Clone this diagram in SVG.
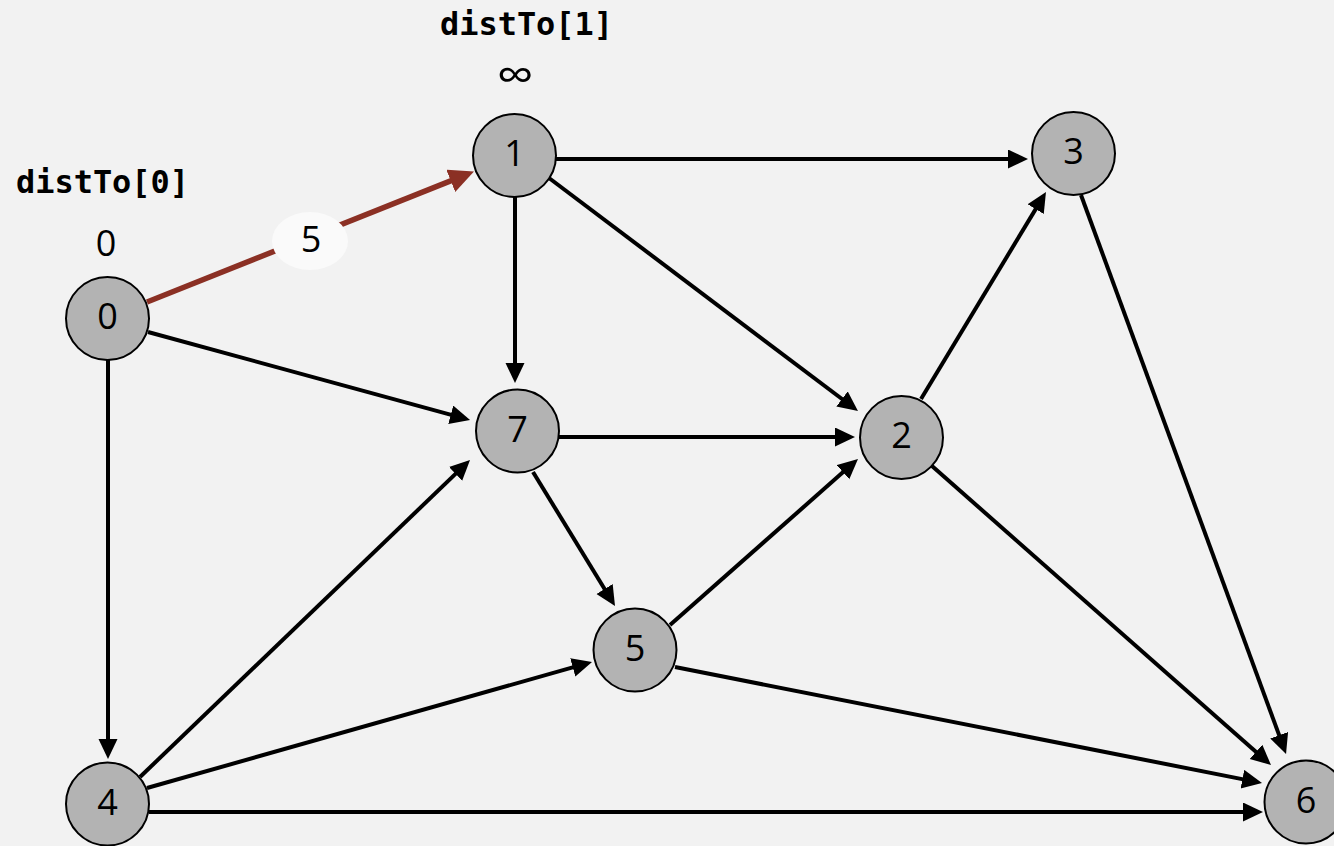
<svg xmlns="http://www.w3.org/2000/svg" width="1334" height="846" viewBox="0 0 1334 846">
<style>
.node circle{fill:#b3b3b3;stroke:#000;stroke-width:2}
.node text{font-family:"Open Sans","Noto Sans",sans-serif;font-size:36px;fill:#000;text-anchor:middle}
.edge{stroke:#000;stroke-width:4;fill:none;marker-end:url(#arr)}
.hot{stroke:#8b3024;stroke-width:5.5;fill:none;marker-end:url(#arrRed)}
.lbl{font-family:"DejaVu Sans Mono",monospace;font-weight:bold;font-size:32px;fill:#000;text-anchor:middle}
.val{font-family:"Open Sans","Noto Sans",sans-serif;font-size:36px;fill:#000;text-anchor:middle}
</style>
<defs>
<marker id="arr" markerUnits="userSpaceOnUse" markerWidth="22" markerHeight="22" refX="10" refY="9.5" orient="auto">
<path d="M0,0 L20,9.5 L0,19 Z" fill="#000"/>
</marker>
<marker id="arrRed" markerUnits="userSpaceOnUse" markerWidth="28" markerHeight="28" refX="12" refY="12" orient="auto">
<path d="M0,0 L25,12 L0,24 Z" fill="#8b3024"/>
</marker>
</defs>
<rect x="0" y="0" width="1334" height="846" fill="#f2f2f2"/>
<g id="connectors">
<line id="e0-1" class="hot" x1="147" y1="302" x2="461.9" y2="176.4"/>
<line id="e0-7" class="edge" x1="148" y1="332" x2="460.4" y2="417.4"/>
<line id="e0-4" class="edge" x1="108" y1="360" x2="108" y2="749"/>
<line id="e1-3" class="edge" x1="556" y1="159" x2="1018" y2="159"/>
<line id="e1-7" class="edge" x1="515" y1="197" x2="515" y2="373"/>
<line id="e1-2" class="edge" x1="549" y1="178" x2="850" y2="405"/>
<line id="e7-2" class="edge" x1="559" y1="437" x2="845" y2="437"/>
<line id="e7-5" class="edge" x1="533" y1="472" x2="609.8" y2="597.5"/>
<line id="e5-2" class="edge" x1="670" y1="625" x2="850.5" y2="465.6"/>
<line id="e2-3" class="edge" x1="921" y1="399" x2="1040.8" y2="200.6"/>
<line id="e2-6" class="edge" x1="932" y1="466" x2="1263.5" y2="758.4"/>
<line id="e3-6" class="edge" x1="1081" y1="195" x2="1282.6" y2="744.6"/>
<line id="e4-7" class="edge" x1="140" y1="777" x2="462.8" y2="466.9"/>
<line id="e4-5" class="edge" x1="147" y1="788" x2="582.4" y2="664.7"/>
<line id="e4-6" class="edge" x1="149" y1="812" x2="1253" y2="812"/>
<line id="e5-6" class="edge" x1="675" y1="667" x2="1252.2" y2="781.1"/>
<g id="w0-1">
<ellipse cx="310" cy="241" rx="38" ry="29" fill="#fafafa"/>
<text class="val" x="311" y="252">5</text>
</g>
</g>
<g id="n0" class="node"><circle cx="107.5" cy="318.5" r="41.5"/><text x="107.5" y="329">0</text></g>
<g id="n1" class="node"><circle cx="514.5" cy="155.5" r="41.5"/><text x="514.5" y="166">1</text></g>
<g id="n2" class="node"><circle cx="901.5" cy="437.5" r="41.5"/><text x="901.5" y="448">2</text></g>
<g id="n3" class="node"><circle cx="1073.5" cy="153.5" r="41.5"/><text x="1073.5" y="164">3</text></g>
<g id="n4" class="node"><circle cx="107.5" cy="804" r="41.5"/><text x="107.5" y="814.5">4</text></g>
<g id="n5" class="node"><circle cx="635" cy="650" r="41.5"/><text x="635" y="660.5">5</text></g>
<g id="n6" class="node"><circle cx="1306" cy="802" r="41.5"/><text x="1306" y="812.5">6</text></g>
<g id="n7" class="node"><circle cx="517.5" cy="431" r="41.5"/><text x="517.5" y="441.5">7</text></g>
<g id="labels">
<text class="lbl" x="102.5" y="193" textLength="173" lengthAdjust="spacingAndGlyphs">distTo[0]</text>
<text class="val" x="106" y="256">0</text>
<text class="lbl" x="526.5" y="35" textLength="173" lengthAdjust="spacingAndGlyphs">distTo[1]</text>
<text class="val" x="515" y="91" style="font-size:46px" textLength="37" lengthAdjust="spacingAndGlyphs">∞</text>
</g>
</svg>
